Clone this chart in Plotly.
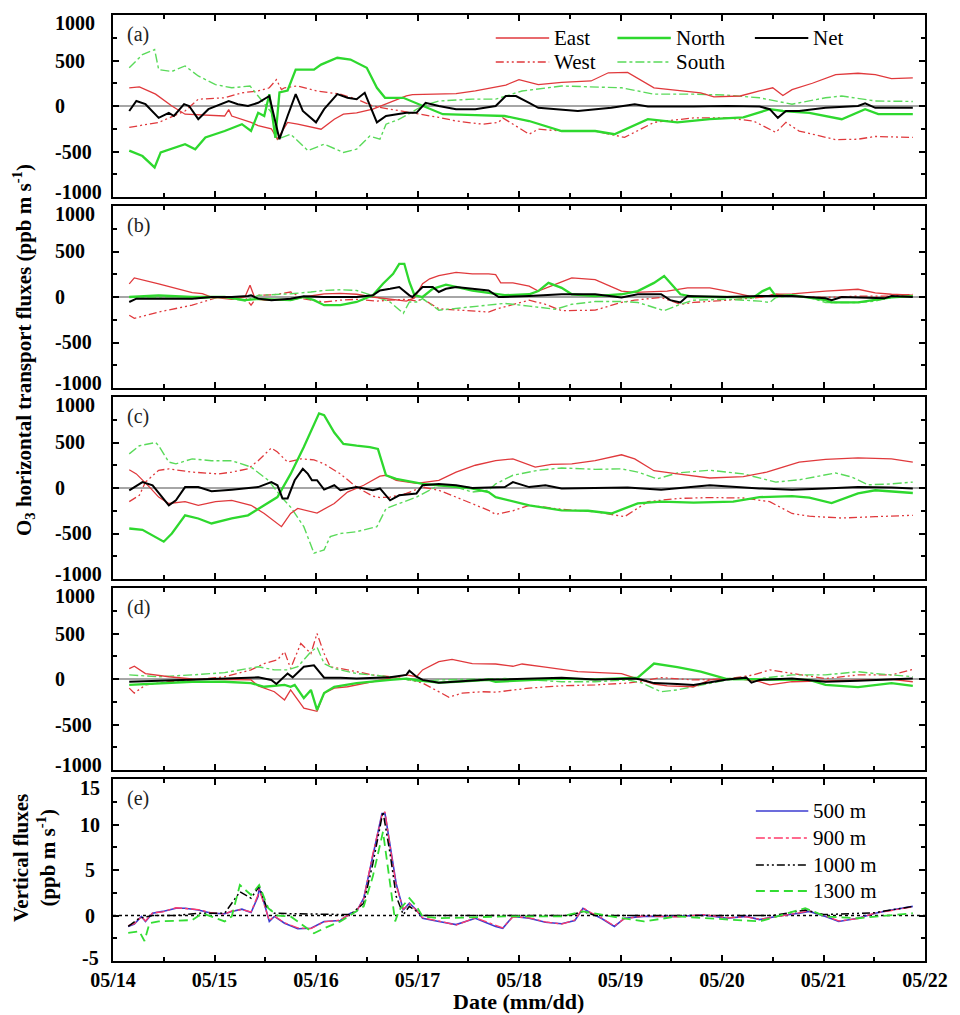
import plotly.graph_objects as go
from plotly.subplots import make_subplots

# ---------------- data (days since 05/14 00:00, flux values) ----------------
date_ticks = ["05/14", "05/15", "05/16", "05/17", "05/18", "05/19", "05/20", "05/21", "05/22"]
h_ticks = [1000, 500, 0, -500, -1000]
v_ticks = [15, 10, 5, 0, -5]

# Panel (a)
a_east_day = [0.16,0.26,0.42,0.58,0.71,1.10,1.14,1.17,1.36,1.43,1.56,1.62,1.72,1.82,2.05,2.18,2.27,2.40,2.56,2.69,2.89,2.95,3.21,3.38,3.57,3.73,3.87,4.00,4.19,4.42,4.71,4.88,5.07,5.33,5.56,5.79,5.92,6.18,6.37,6.50,6.60,6.69,6.89,7.12,7.34,7.51,7.67,7.88]
a_east_val = [200,210,130,0,-90,-110,-40,-110,-180,-215,-250,-365,-180,-200,-255,-145,-90,-75,-35,20,110,125,135,135,165,200,230,290,235,260,275,365,370,200,175,145,100,110,165,200,115,180,250,345,360,345,300,310]
a_west_day = [0.16,0.45,0.71,0.84,1.10,1.27,1.43,1.54,1.61,1.66,1.69,1.82,2.01,2.24,2.40,2.56,2.73,3.05,3.21,3.38,3.64,3.80,3.84,4.10,4.19,4.42,4.75,5.04,5.33,5.72,6.05,6.31,6.53,6.63,6.76,7.12,7.34,7.51,7.88]
a_west_val = [-235,-180,-55,75,90,145,165,200,290,180,200,220,165,130,75,0,-35,-90,-125,-165,-200,-180,-130,-310,-255,-275,-275,-345,-180,-130,-130,-165,-290,-180,-275,-370,-365,-335,-345]
a_north_day = [0.16,0.29,0.41,0.47,0.71,0.81,0.91,1.10,1.27,1.36,1.43,1.49,1.54,1.60,1.64,1.72,1.80,1.98,2.05,2.21,2.34,2.50,2.60,2.68,2.86,3.05,3.25,3.57,3.86,4.10,4.42,4.75,4.94,5.27,5.56,5.88,6.21,6.47,6.60,6.86,7.18,7.41,7.54,7.88]
a_north_val = [-490,-550,-675,-510,-420,-475,-345,-275,-200,-275,-75,-110,130,-350,150,170,400,400,455,530,510,420,200,90,90,0,-90,-100,-110,-165,-275,-275,-310,-145,-180,-145,-125,-35,-55,-75,-145,-35,-90,-90]
a_south_day = [0.16,0.29,0.41,0.45,0.58,0.71,0.84,1.01,1.17,1.35,1.43,1.56,1.62,1.75,1.92,2.08,2.27,2.40,2.53,2.63,2.69,2.82,3.05,3.21,3.54,3.77,4.03,4.42,5.01,5.33,5.72,6.05,6.37,6.69,7.02,7.18,7.51,7.88]
a_south_val = [420,565,620,400,380,440,330,235,200,220,110,-70,-365,-310,-490,-420,-510,-475,-330,-365,-200,-145,0,55,75,75,165,220,200,130,130,120,90,20,90,110,55,50]
a_net_day = [0.16,0.23,0.32,0.45,0.55,0.60,0.70,0.75,0.84,0.94,1.14,1.23,1.33,1.43,1.54,1.64,1.72,1.80,1.87,2.00,2.08,2.21,2.31,2.40,2.48,2.60,2.69,2.89,2.99,3.08,3.21,3.38,3.57,3.77,3.87,3.97,4.10,4.19,4.58,4.91,5.14,5.27,5.72,6.05,6.37,6.47,6.55,6.63,6.76,7.02,7.34,7.41,7.51,7.88]
a_net_val = [-55,55,20,-130,-75,-110,20,0,-145,-35,55,20,0,35,110,-365,-110,130,-55,-180,-35,130,90,75,145,-180,-110,-75,-75,35,0,-35,-35,0,110,110,35,-20,-55,-20,20,-5,-5,0,-5,-35,-130,-55,-55,-20,0,30,-20,-20]

# Panel (b)
b_east_day = [0.16,0.21,0.45,0.78,0.88,0.97,1.17,1.30,1.35,1.40,1.49,1.75,1.88,2.08,2.24,2.40,2.56,2.73,2.89,2.97,3.05,3.12,3.21,3.38,3.54,3.70,3.77,3.82,3.94,4.10,4.19,4.42,4.52,4.75,5.01,5.14,5.46,5.66,5.88,6.05,6.27,6.37,6.53,6.69,7.02,7.34,7.51,7.67,7.88]
b_east_val = [145,210,145,47,36,0,-25,0,130,-20,-35,-35,0,35,40,30,0,-20,-45,-10,145,200,235,270,255,255,245,155,155,120,65,165,210,190,65,50,65,100,100,65,10,-5,30,35,65,85,45,30,20]
b_west_day = [0.16,0.21,0.45,0.78,0.88,1.04,1.30,1.36,1.43,1.59,1.75,1.88,2.08,2.24,2.40,2.60,2.73,2.89,2.99,3.05,3.21,3.38,3.70,3.77,3.94,4.10,4.26,4.42,4.75,5.01,5.14,5.40,5.59,5.72,6.05,6.37,6.53,6.69,7.02,7.34,7.67,7.88]
b_west_val = [-200,-235,-165,-90,-55,0,0,-90,20,25,55,-20,-55,-35,-25,-45,-35,-25,-45,-20,-130,-145,-165,-135,-80,-35,-80,-150,-145,-60,-35,-5,-80,-60,-35,-5,30,10,-5,10,10,30]
b_north_day = [0.16,0.45,0.78,1.10,1.30,1.43,1.75,1.88,1.98,2.08,2.24,2.40,2.56,2.66,2.76,2.82,2.87,2.92,2.97,3.05,3.15,3.28,3.38,3.54,3.70,3.86,4.10,4.19,4.29,4.42,4.52,4.75,5.01,5.17,5.33,5.43,5.59,5.72,6.05,6.31,6.40,6.47,6.53,6.69,7.02,7.08,7.34,7.51,7.67,7.88]
b_north_val = [0,18,0,0,-35,-20,-35,0,-35,-90,-90,-55,18,145,255,365,365,165,20,0,90,135,110,70,45,20,30,65,155,100,30,10,30,65,155,230,30,0,0,-5,65,100,10,20,-35,-60,-60,-35,-5,10]
b_south_day = [0.16,0.45,0.78,1.10,1.30,1.43,1.75,1.95,2.08,2.24,2.40,2.60,2.73,2.86,2.92,2.99,3.05,3.21,3.38,3.54,3.86,4.10,4.36,4.52,4.75,5.01,5.17,5.43,5.59,5.72,6.05,6.37,6.47,6.53,6.69,6.86,7.02,7.34,7.51,7.67,7.88]
b_south_val = [0,-10,-18,0,-45,18,35,55,72,80,72,0,-55,-180,-55,-55,-18,-145,-125,-110,-70,-100,-135,-80,-50,-50,-60,-150,-80,-35,-25,-45,-60,-5,10,-5,-60,-60,-45,-5,10]
b_net_day = [0.16,0.23,0.45,0.78,0.97,1.17,1.33,1.36,1.43,1.56,1.75,1.88,2.08,2.40,2.56,2.63,2.73,2.82,2.92,2.95,3.05,3.15,3.21,3.28,3.38,3.54,3.70,3.80,3.84,4.10,4.42,4.75,5.01,5.17,5.40,5.49,5.59,5.66,6.05,6.37,6.69,7.02,7.08,7.18,7.60,7.67,7.88]
b_net_val = [-55,-18,-18,-18,0,0,10,18,-18,-35,-18,8,0,0,18,72,90,110,18,0,110,110,55,90,110,90,72,0,0,10,30,30,-5,30,30,-35,-60,10,0,10,10,-15,-35,0,-15,10,0]

# Panel (c)
c_east_day = [0.16,0.23,0.36,0.45,0.55,0.71,0.84,1.01,1.17,1.36,1.49,1.66,1.75,1.82,2.01,2.18,2.31,2.47,2.63,2.69,2.79,2.99,3.21,3.38,3.57,3.77,3.94,4.16,4.32,4.52,4.75,5.01,5.14,5.33,5.56,5.88,6.21,6.44,6.60,6.76,7.02,7.34,7.67,7.88]
c_east_val = [200,155,10,-100,-170,-150,-190,-150,-135,-190,-280,-425,-280,-225,-275,-170,-45,30,130,140,85,50,85,175,250,300,320,230,260,265,300,365,320,190,155,110,125,175,230,285,315,330,320,285]
c_west_day = [0.16,0.26,0.32,0.45,0.55,0.78,1.04,1.17,1.33,1.43,1.56,1.62,1.72,1.85,1.98,2.08,2.24,2.40,2.56,2.63,2.73,2.89,3.05,3.21,3.38,3.54,3.70,3.77,3.94,4.10,4.42,4.75,5.04,5.27,5.56,5.88,6.21,6.47,6.69,6.86,7.18,7.51,7.88]
c_west_val = [-150,-80,65,195,210,175,155,175,210,300,440,395,285,320,310,265,155,10,-90,-105,-100,-60,10,-25,-100,-170,-245,-290,-250,-190,-235,-260,-315,-150,-115,-105,-110,-150,-280,-310,-330,-315,-300]
c_north_day = [0.16,0.29,0.50,0.58,0.71,0.84,0.97,1.17,1.33,1.49,1.62,1.75,1.88,2.03,2.08,2.18,2.27,2.40,2.53,2.61,2.69,2.79,3.05,3.21,3.51,3.70,3.77,4.10,4.42,4.68,4.91,5.17,5.40,5.72,6.11,6.37,6.69,6.86,7.08,7.34,7.51,7.88]
c_north_val = [-445,-460,-590,-500,-300,-335,-390,-335,-300,-190,-100,155,450,820,800,610,485,465,450,430,140,100,45,30,0,-45,-100,-190,-245,-250,-280,-170,-150,-160,-150,-100,-90,-105,-165,-60,-25,-55]
c_south_day = [0.16,0.26,0.42,0.45,0.55,0.62,0.78,0.97,1.17,1.36,1.53,1.66,1.75,1.88,1.98,2.08,2.14,2.24,2.40,2.60,2.69,2.82,2.99,3.15,3.21,3.38,3.54,3.70,3.77,3.94,4.19,4.42,4.75,5.01,5.17,5.36,5.56,5.88,6.21,6.53,6.76,7.12,7.28,7.44,7.67,7.88]
c_south_val = [375,465,500,465,285,265,320,300,300,230,85,-100,-210,-425,-715,-680,-535,-500,-480,-425,-225,-170,-100,-5,30,10,-45,-25,45,140,195,220,205,210,175,100,165,195,155,65,90,165,120,35,45,65]
c_net_day = [0.16,0.29,0.39,0.49,0.55,0.62,0.71,0.84,0.97,1.17,1.43,1.56,1.62,1.67,1.72,1.79,1.87,1.92,1.96,2.01,2.08,2.18,2.24,2.40,2.56,2.63,2.73,2.82,2.99,3.05,3.21,3.38,3.54,3.86,3.94,4.10,4.26,4.42,5.07,5.40,5.88,6.37,6.69,7.02,7.34,7.67,7.88]
c_net_val = [-25,65,30,-100,-190,-135,10,10,-35,-18,10,65,30,-115,-115,85,210,155,85,85,-18,30,-25,10,-25,-5,-135,-80,-60,30,45,30,0,10,65,10,30,-5,5,-18,30,-5,-18,-5,10,5,-5]

# Panel (d)
d_east_day = [0.16,0.21,0.32,0.55,0.78,1.10,1.36,1.43,1.59,1.69,1.75,1.88,2.01,2.08,2.18,2.31,2.56,2.73,2.89,2.99,3.05,3.21,3.34,3.54,3.77,3.94,4.03,4.26,4.58,5.01,5.17,5.33,5.46,5.72,5.88,6.05,6.21,6.37,6.47,6.69,7.02,7.34,7.67,7.88]
d_east_val = [115,140,60,25,0,-10,-10,-75,-140,-230,-120,-320,-355,-155,-100,-85,-30,5,45,25,100,190,215,170,165,140,165,130,80,60,5,-55,-75,-85,-10,0,-5,-30,-65,-30,-20,-10,-5,-30]
d_west_day = [0.16,0.21,0.32,0.55,0.78,1.10,1.36,1.49,1.62,1.69,1.75,1.85,1.95,2.01,2.08,2.14,2.31,2.56,2.73,2.89,3.05,3.21,3.31,3.44,3.64,3.77,3.94,4.10,4.42,4.75,5.07,5.17,5.40,5.72,6.05,6.31,6.47,6.69,7.02,7.34,7.67,7.88]
d_west_val = [-100,-155,-65,-30,-10,25,100,170,210,300,115,390,280,500,280,135,100,45,25,0,-45,-140,-200,-155,-140,-145,-120,-100,-75,-65,-45,-30,15,-10,0,45,100,60,5,45,45,105]
d_north_day = [0.16,0.45,0.78,1.10,1.36,1.49,1.69,1.75,1.79,1.88,1.95,2.01,2.08,2.18,2.40,2.73,2.89,3.05,3.21,3.38,3.70,3.77,4.10,4.42,4.75,5.17,5.33,5.56,5.79,6.05,6.37,6.69,6.86,7.02,7.34,7.67,7.88]
d_north_val = [-65,-45,-30,-30,-45,-85,-65,-85,-65,-210,-120,-340,-155,-85,-45,-10,5,-20,-40,-30,-10,-30,-10,5,-5,15,170,130,80,0,-5,-5,-10,-65,-90,-45,-75]
d_south_day = [0.16,0.45,0.78,1.10,1.43,1.59,1.72,1.82,1.95,2.01,2.08,2.18,2.40,2.56,2.73,2.89,3.05,3.21,3.38,3.70,3.86,4.10,4.42,4.75,5.07,5.20,5.40,5.56,5.79,6.05,6.37,6.69,7.02,7.34,7.51,7.88]
d_south_val = [45,25,45,70,135,100,100,135,300,350,170,115,60,45,25,-10,-30,-10,-5,5,5,-10,-30,-30,-10,-40,-140,-120,-65,-10,5,45,45,80,60,25]
d_net_day = [0.16,0.45,0.78,1.10,1.43,1.56,1.61,1.72,1.77,1.88,1.98,2.08,2.24,2.40,2.73,2.89,2.92,2.99,3.05,3.21,3.38,3.70,3.86,4.10,4.42,4.75,5.14,5.20,5.33,5.56,5.72,6.05,6.24,6.29,6.37,6.69,7.02,7.34,7.67,7.88]
d_net_val = [-30,-18,-5,5,18,-10,-55,60,18,135,150,15,15,5,18,45,90,25,-10,-40,-30,-5,-5,5,15,-5,5,-5,-45,-55,-65,-5,15,-40,-10,5,-30,-20,-5,5]

# Panel (e) vertical fluxes
e_500_day = [0.15,0.21,0.28,0.32,0.39,0.49,0.62,0.71,0.84,0.97,1.10,1.17,1.27,1.36,1.43,1.44,1.49,1.54,1.59,1.69,1.82,1.95,2.08,2.24,2.34,2.40,2.47,2.56,2.65,2.68,2.73,2.79,2.86,2.92,2.99,3.05,3.21,3.38,3.57,3.70,3.77,3.84,3.94,4.10,4.26,4.42,4.55,4.63,4.71,4.81,4.94,5.04,5.23,5.56,5.82,6.05,6.24,6.37,6.56,6.76,6.86,7.02,7.15,7.34,7.51,7.67,7.88]
e_500_val = [-1.2,-0.95,-0.1,-0.65,0.25,0.45,0.8,0.8,0.6,0.25,0.2,0.45,0.7,0.33,2.1,3.0,1.35,-0.65,-0.1,-0.85,-1.45,-1.4,-0.65,-0.55,0.25,0.45,1.9,6.5,11.2,11.2,7.9,3.5,0.6,1.35,0.6,-0.3,-0.65,-1.0,-0.3,-0.85,-1.2,-1.4,-0.1,-0.3,-0.75,-0.9,-0.55,0.8,0.25,-0.3,-1.2,-0.3,-0.1,-0.1,0.05,-0.3,-0.1,-0.45,-0.05,0.25,0.45,-0.1,-0.65,-0.3,0.25,0.6,1.0]
e_900_day = [0.15,0.21,0.28,0.32,0.39,0.49,0.62,0.71,0.84,0.97,1.10,1.17,1.27,1.36,1.43,1.44,1.49,1.54,1.59,1.69,1.82,1.95,2.08,2.24,2.34,2.40,2.47,2.56,2.65,2.68,2.73,2.79,2.86,2.92,2.99,3.05,3.21,3.38,3.57,3.70,3.77,3.84,3.94,4.10,4.26,4.42,4.55,4.63,4.71,4.81,4.94,5.04,5.23,5.56,5.82,6.05,6.24,6.37,6.56,6.76,6.86,7.02,7.15,7.34,7.51,7.67,7.88]
e_900_val = [-1.1,-0.9,-0.15,-0.6,0.3,0.4,0.85,0.75,0.65,0.3,0.15,0.5,0.65,0.4,2.3,2.9,1.2,-0.55,-0.05,-0.8,-1.35,-1.45,-0.7,-0.5,0.2,0.5,1.8,6.8,11.0,11.4,7.6,3.3,0.7,1.3,0.55,-0.25,-0.6,-1.05,-0.25,-0.8,-1.1,-1.35,-0.15,-0.25,-0.7,-0.95,-0.5,0.85,0.3,-0.25,-1.15,-0.35,-0.05,-0.15,0.1,-0.25,-0.15,-0.4,-0.1,0.3,0.5,-0.05,-0.6,-0.35,0.3,0.55,0.95]
e_1000_day = [0.15,0.26,0.39,0.62,0.84,1.10,1.17,1.25,1.36,1.44,1.51,1.59,1.75,2.08,2.34,2.47,2.56,2.66,2.73,2.79,2.86,2.92,2.99,3.05,3.86,4.50,4.63,4.75,6.50,6.82,7.00,7.50,7.88]
e_1000_val = [-1.2,-0.3,0.0,0.0,0.25,0.25,1.35,2.6,1.9,3.2,1.0,0.25,0.2,0.1,0.1,1.35,5.7,11.4,6.8,2.1,0.1,1.0,0.45,0.0,0.0,0.0,0.45,0.0,0.0,0.6,0.1,0.3,1.0]
e_1300_day = [0.15,0.26,0.31,0.36,0.45,0.78,0.88,0.97,1.10,1.17,1.25,1.36,1.44,1.53,1.62,1.75,1.88,1.98,2.08,2.24,2.34,2.47,2.56,2.66,2.73,2.78,2.82,2.92,2.99,3.05,3.21,3.86,4.42,4.63,4.91,5.23,5.56,6.37,6.82,7.02,7.34,7.88]
e_1300_val = [-1.9,-1.75,-2.8,-0.85,-0.65,-0.5,0.25,-0.1,-0.65,-0.1,3.35,2.25,3.35,0.8,0.0,-0.1,-1.2,-1.95,-1.4,-0.65,0.05,1.0,4.3,9.2,3.5,-0.65,0.6,1.9,1.0,-0.1,-0.3,-0.1,-0.1,0.45,-0.1,-0.65,-0.1,-0.65,0.8,-0.1,-0.3,0.25]

# ---------------- figure ----------------
FONT = "Liberation Serif"
RED = "#e0393c"
GREEN = "#2ed82e"
LGREEN = "#5ada5a"
DASH3 = "8px,3px,2px,3px,2px,3px"

# plot-area geometry in pixels (for placing text relative to the frame)
L, R, T, B = 113, 934, 15, 961
W_, H_ = R - L, B - T
def px(xp):
    return (xp - L) / W_
def py(yp):
    return (B - yp) / H_

fig = make_subplots(rows=5, cols=1, shared_xaxes=True, vertical_spacing=9 / 946)

styles = {
    "East": dict(color=RED, width=1.3),
    "West": dict(color=RED, width=1.3, dash=DASH3),
    "North": dict(color=GREEN, width=2.3),
    "South": dict(color=LGREEN, width=1.4, dash="dashdot"),
    "Net": dict(color="black", width=2),
}
panels = [
    {"East": (a_east_day, a_east_val), "West": (a_west_day, a_west_val), "North": (a_north_day, a_north_val), "South": (a_south_day, a_south_val), "Net": (a_net_day, a_net_val)},
    {"East": (b_east_day, b_east_val), "West": (b_west_day, b_west_val), "North": (b_north_day, b_north_val), "South": (b_south_day, b_south_val), "Net": (b_net_day, b_net_val)},
    {"East": (c_east_day, c_east_val), "West": (c_west_day, c_west_val), "North": (c_north_day, c_north_val), "South": (c_south_day, c_south_val), "Net": (c_net_day, c_net_val)},
    {"East": (d_east_day, d_east_val), "West": (d_west_day, d_west_val), "North": (d_north_day, d_north_val), "South": (d_south_day, d_south_val), "Net": (d_net_day, d_net_val)},
]
draw_order = ["West", "South", "East", "North", "Net"]

for i, p in enumerate(panels):
    row = i + 1
    fig.add_shape(type="line", x0=0, x1=8, y0=0, y1=0, line=dict(color="#888888", width=1.5),
                  layer="below", row=row, col=1)
    for name in draw_order:
        xs, ys = p[name]
        fig.add_trace(go.Scatter(x=xs, y=ys, mode="lines", name=name, line=styles[name],
                                 showlegend=False), row=row, col=1)

e_series = [
    ("500 m", e_500_day, e_500_val, dict(color="#3b3bd0", width=1.6)),
    ("900 m", e_900_day, e_900_val, dict(color="#ff3a6a", width=1.3, dash="dashdot")),
    ("1000 m", e_1000_day, e_1000_val, dict(color="black", width=1.5, dash=DASH3)),
    ("1300 m", e_1300_day, e_1300_val, dict(color="#33dd33", width=1.8, dash="9px,5px")),
]
fig.add_shape(type="line", x0=0, x1=8, y0=0, y1=0, line=dict(color="black", width=1.3, dash="dot"),
              layer="below", row=5, col=1)
for nm, xs, ys, ln in e_series:
    fig.add_trace(go.Scatter(x=xs, y=ys, mode="lines", name=nm, line=ln, showlegend=False), row=5, col=1)

common_axis = dict(showline=True, linecolor="black", linewidth=2, mirror="ticks",
                   ticks="inside", ticklen=6, tickwidth=2, tickcolor="black",
                   showgrid=False, zeroline=False,
                   tickfont=dict(family=FONT, size=20, color="black", weight="bold"))
minor_style = dict(ticks="inside", ticklen=4, tickwidth=1.5, tickcolor="black")

for r in range(1, 6):
    fig.update_xaxes(range=[0, 8], tickvals=list(range(len(date_ticks))), ticktext=date_ticks,
                     minor=dict(dtick=0.5, tick0=0, **minor_style),
                     showticklabels=(r == 5), row=r, col=1, **common_axis)
for r in range(1, 5):
    fig.update_yaxes(range=[-1000, 1000], tickvals=h_ticks, showticklabels=False,
                     minor=dict(tickvals=[-750, -250, 250, 750], **minor_style),
                     row=r, col=1, **common_axis)
fig.update_yaxes(range=[-5, 15], tickvals=v_ticks, showticklabels=False,
                 minor=dict(tickvals=[-2.5, 2.5, 7.5, 12.5], **minor_style),
                 row=5, col=1, **common_axis)

annotations = []
tick_font = dict(family=FONT, size=20, color="black", weight="bold")
# y tick labels (left-aligned as in the original, end labels pulled inside the frame)
for r in range(1, 5):
    yr = "y" if r == 1 else f"y{r}"
    for v in h_ticks:
        annotations.append(dict(text=str(v), xref="paper", yref=yr, x=px(53), y=max(min(v, 910), -945),
                                xanchor="left", yanchor="middle", showarrow=False, font=tick_font,
                                borderpad=0))
for v in v_ticks:
    annotations.append(dict(text=str(v), xref="paper", yref="y5", x=px(90), y=max(min(v, 14.0), -4.7),
                            xanchor="center", yanchor="middle", showarrow=False, font=tick_font,
                            borderpad=0))

for i, lab in enumerate(["(a)", "(b)", "(c)", "(d)", "(e)"]):
    xr = "x domain" if i == 0 else f"x{i+1} domain"
    yr = "y domain" if i == 0 else f"y{i+1} domain"
    annotations.append(dict(text=lab, xref=xr, yref=yr, x=0.015, y=0.965, xanchor="left", yanchor="top",
                            showarrow=False, font=dict(family=FONT, size=20, color="#222")))
annotations.append(dict(text="<b>O<sub>3</sub> horizontal transport fluxes (ppb m s<sup>-1</sup>)</b>",
                        xref="paper", yref="paper", x=px(22), y=py(350), textangle=-90,
                        xanchor="center", yanchor="middle", showarrow=False,
                        font=dict(family=FONT, size=21, color="black")))
annotations.append(dict(text="<b>Vertical fluxes</b><br><b>(ppb m s<sup>-1</sup>)</b>",
                        xref="paper", yref="paper", x=px(33), y=py(858), textangle=-90,
                        xanchor="center", yanchor="middle", showarrow=False,
                        font=dict(family=FONT, size=21, color="black")))
annotations.append(dict(text="<b>Date (mm/dd)</b>", xref="paper", yref="paper", x=px(523), y=py(1002),
                        xanchor="center", yanchor="middle", showarrow=False,
                        font=dict(family=FONT, size=22, color="black")))

# ---- legends (drawn as line samples + labels inside the panels) ----
shapes = []
leg_font = dict(family=FONT, size=21, color="black")
leg_a = [("East", 500, 38), ("North", 623, 38), ("Net", 762, 38), ("West", 500, 62), ("South", 623, 62)]
for name, x0, yy in leg_a:
    shapes.append(dict(type="line", xref="paper", yref="paper", x0=px(x0), x1=px(x0 + 54),
                       y0=py(yy), y1=py(yy), line=styles[name]))
    annotations.append(dict(text=name, xref="paper", yref="paper", x=px(x0 + 57), y=py(yy),
                            xanchor="left", yanchor="middle", showarrow=False, font=leg_font))
leg_e_rows = [811, 838, 865, 891]
for (nm, _, _, ln), yy in zip(e_series, leg_e_rows):
    shapes.append(dict(type="line", xref="paper", yref="paper", x0=px(763), x1=px(816),
                       y0=py(yy), y1=py(yy), line=ln))
    annotations.append(dict(text=nm, xref="paper", yref="paper", x=px(819), y=py(yy),
                            xanchor="left", yanchor="middle", showarrow=False, font=leg_font))
for s in shapes:
    fig.add_shape(**s)

fig.update_layout(
    width=960, height=1015,
    margin=dict(l=L, r=960 - R, t=T, b=1015 - B),
    paper_bgcolor="white", plot_bgcolor="white",
    annotations=annotations,
    showlegend=False,
)

fig.write_html("out.html")
